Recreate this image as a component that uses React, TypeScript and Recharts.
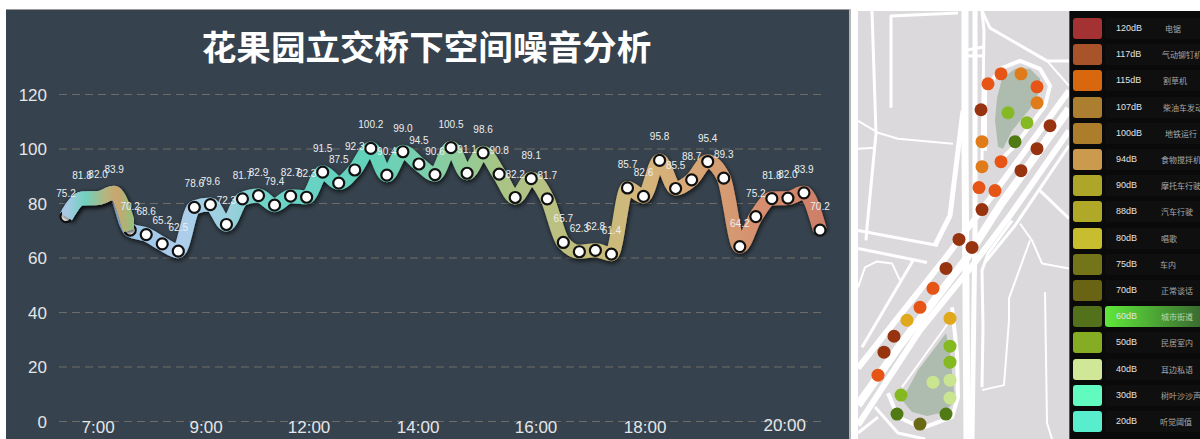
import {
  CartesianGrid,
  ComposedChart,
  Line,
  Scatter,
  ScatterChart,
  XAxis,
  YAxis,
} from "recharts";

const TITLE = "花果园立交桥下空间噪音分析";

const NOISE_VALUES = [
  75.2, 81.8, 82.0, 83.9, 70.2, 68.6, 65.2, 62.5, 78.6, 79.6, 72.3, 81.7,
  82.9, 79.4, 82.7, 82.3, 91.5, 87.5, 92.3, 100.2, 90.4, 99.0, 94.5, 90.6,
  100.5, 91.1, 98.6, 90.8, 82.2, 89.1, 81.7, 65.7, 62.3, 62.8, 61.4, 85.7,
  82.6, 95.8, 85.5, 88.7, 95.4, 89.3, 64.2, 75.2, 81.8, 82.0, 83.9, 70.2,
];
// the morning stretch is drawn again on top in its own colours
const HEAD_COUNT = 5;

const TIME_LABELS = ["7:00", "9:00", "12:00", "14:00", "16:00", "18:00", "20:00"];
const TIME_SLOTS = [2, 8.73, 15.15, 21.95, 29.3, 36.1, 44.8];
const DB_TICKS = [0, 20, 40, 60, 80, 100, 120];

const BASE_STOPS: [number, string][] = [
  [0, "#a9c8e6"],
  [0.085, "#9ac5e6"],
  [0.15, "#aecdec"],
  [0.18, "#a5cfe8"],
  [0.22, "#99d0dc"],
  [0.26, "#70d3c8"],
  [0.31, "#68d3c6"],
  [0.405, "#62d2ba"],
  [0.47, "#7acfae"],
  [0.535, "#95cb94"],
  [0.575, "#a8c485"],
  [0.63, "#b7c283"],
  [0.695, "#c4bc7b"],
  [0.76, "#d3b77b"],
  [0.815, "#d8ab78"],
  [0.87, "#d59c72"],
  [0.92, "#d58f6f"],
  [1, "#ce7f68"],
];
const HEAD_STOPS: [number, string][] = [
  [0, "#a9c8e6"],
  [0.3, "#6fd2bf"],
  [0.62, "#b5b57c"],
  [0.8, "#cba56e"],
  [1, "#9dbb7a"],
];

const LEGEND_LEVELS = [
  "120dB", "117dB", "115dB", "107dB", "100dB", "94dB", "90dB", "88dB",
  "80dB", "75dB", "70dB", "60dB", "50dB", "40dB", "30dB", "20dB",
];
const LEGEND_NAMES = [
  "电锯", "气动铆钉机", "割草机", "柴油车发动机", "地铁运行", "食物搅拌机", "摩托车行驶", "汽车行驶",
  "唱歌", "车内", "正常谈话", "城市街道", "民居室内", "耳边私语", "树叶沙沙声", "听觉阈值",
];
const LEGEND_COLORS = [
  "#a43233", "#a9532a", "#d8670d", "#ab7f2f", "#ac7d2b", "#cc9a4c", "#ada628", "#b0a927",
  "#c8bd2f", "#737518", "#696414", "#53701a", "#85ac22", "#cfe796", "#62fbbf", "#57edcd",
];
const LEGEND_NAME_LEFT = [95, 92, 93, 93, 95, 91, 91, 91, 91, 90, 91, 91, 91, 91, 91, 90];
const ACTIVE_LEVEL = "60dB";

// map geometry, in the map's own x/y units
type Pt = { x: number; y: number };
const pts = (flat: number[]): Pt[] => {
  const out: Pt[] = [];
  for (let i = 0; i < flat.length; i += 2) out.push({ x: flat[i], y: flat[i + 1] });
  return out;
};

const PARKS = [
  pts([997, 97, 1002, 78, 1015, 68, 1030, 68, 1040, 78, 1040, 90, 1030, 108, 1012, 130, 1003, 148, 998, 146, 995, 120]),
  pts([946, 333, 950, 353, 955, 400, 945, 412, 927, 416, 912, 412, 902, 400, 918, 370]),
];

const ROADS: [number, number[]][] = [
  [7, [965, 10, 965, 150, 967, 439]],
  [5, [975, 10, 975, 230, 972, 439]],
  [3, [982, 10, 984, 30, 982, 160]],
  [5, [963, 110, 950, 215, 935, 245]],
  [6, [1069, 90, 985, 205, 945, 258, 858, 368]],
  [8, [1069, 108, 1000, 205, 965, 260, 900, 345, 858, 405]],
  [6, [1069, 130, 1010, 215, 975, 262, 920, 330, 858, 425]],
  [3, [1069, 145, 1015, 225, 985, 262]],
  [3, [872, 10, 876, 133, 867, 227, 866, 240]],
  [3, [891, 107, 891, 15, 958, 12]],
  [2, [858, 120, 878, 132, 898, 138, 953, 143]],
  [2, [858, 148, 875, 147]],
  [3, [962, 50, 983, 46]],
  [3, [962, 55, 983, 55]],
  [3, [982, 10, 990, 27, 1047, 60, 1069, 60]],
  [2, [1047, 60, 1069, 85]],
  [4, [985, 150, 985, 90, 1000, 68, 1020, 60, 1040, 68, 1050, 85, 1045, 105, 1015, 145, 1000, 160]],
  [3, [1040, 190, 1069, 218]],
  [3, [858, 230, 938, 245]],
  [3, [858, 248, 927, 262]],
  [2, [858, 287, 865, 267, 877, 261, 892, 263, 900, 280]],
  [3, [913, 260, 862, 347]],
  [2, [1020, 223, 1032, 240, 1042, 263, 1069, 268]],
  [2, [1030, 240, 1009, 298, 1009, 320, 1004, 385, 982, 390]],
  [2, [1045, 292, 1047, 423, 1052, 439]],
  [3, [1012, 220, 988, 253, 982, 270, 983, 327, 982, 387]],
  [4, [888, 393, 898, 417, 922, 428, 952, 417, 958, 397, 957, 353, 952, 307]],
  [2, [948, 323, 902, 387]],
  [3, [858, 433, 878, 417]],
  [3, [875, 407, 898, 433, 925, 439]],
];

const BROWN_SPOTS = pts([981, 109, 1050, 125, 1037, 148, 1021, 170, 982, 209, 959, 239, 972, 247, 946, 268, 894, 336, 884, 352]);
const RED_SPOTS = pts([988, 83, 1001, 73, 1037, 86, 1001, 161, 979, 187, 995, 190, 933, 288, 920, 307, 878, 375]);
const ORANGE_SPOTS = pts([1021, 73, 1037, 102, 982, 141, 982, 166]);
const AMBER_SPOTS = pts([907, 320, 950, 318]);
const GREEN_SPOTS = pts([1008, 112, 1027, 122, 950, 346, 950, 362, 901, 395]);
const DARK_GREEN_SPOTS = pts([1015, 141, 897, 414, 946, 414]);
const OLIVE_SPOTS = pts([920, 424]);
const PALE_SPOTS = pts([933, 382, 950, 380, 950, 398]);

const SPOT_GROUPS: [string, Pt[]][] = [
  ["#97330f", BROWN_SPOTS],
  ["#e65516", RED_SPOTS],
  ["#e07b1a", ORANGE_SPOTS],
  ["#e0a81a", AMBER_SPOTS],
  ["#84b922", GREEN_SPOTS],
  ["#4f7a14", DARK_GREEN_SPOTS],
  ["#6b6a14", OLIVE_SPOTS],
  ["#c9e58f", PALE_SPOTS],
];

const tableData = NOISE_VALUES.map((value, idx) => ({
  idx,
  value,
  head: idx < HEAD_COUNT ? value : null,
}));

const UI_FONT = '"Liberation Sans", Arial, sans-serif';
const CJK_FONT = '"Noto Sans CJK SC", sans-serif';

function TimeTick({ x, y, payload }: any) {
  const i = TIME_SLOTS.indexOf(payload.value);
  return (
    <text
      x={x}
      y={y + (i === TIME_LABELS.length - 1 ? 9.5 : 11.5)}
      textAnchor="middle"
      fill="#e4e6e8"
      fontSize={17}
      fontFamily={UI_FONT}
    >
      {TIME_LABELS[i]}
    </text>
  );
}

function NoiseChart() {
  return (
    <div
      style={{
        position: "absolute",
        left: 6,
        top: 9,
        width: 843,
        height: 430,
        background: "#36424d",
        borderTop: "1px solid #9a9a9a",
        boxSizing: "border-box",
      }}
    >
      <div
        style={{
          position: "absolute",
          left: -1,
          width: 843,
          top: 13,
          textAlign: "center",
          color: "#fff",
          fontFamily: CJK_FONT,
          fontWeight: 700,
          fontSize: 34.6,
          lineHeight: "44px",
        }}
      >
        {TITLE}
      </div>
      <ComposedChart
        width={843}
        height={429}
        data={tableData}
        margin={{ top: 84.5, right: 26, bottom: 0, left: 0 }}
      >
        <defs>
          <linearGradient id="baseBand" x1="0" y1="0" x2="1" y2="0">
            {BASE_STOPS.map(([o, c]) => (
              <stop key={o} offset={o} stopColor={c} />
            ))}
          </linearGradient>
          <linearGradient id="headBand" x1="0" y1="0" x2="1" y2="0">
            {HEAD_STOPS.map(([o, c]) => (
              <stop key={o} offset={o} stopColor={c} />
            ))}
          </linearGradient>
          <filter id="bandShadow" x="-5%" y="-20%" width="110%" height="140%">
            <feDropShadow dx="1" dy="2" stdDeviation="2.5" floodColor="#000" floodOpacity="0.75" />
          </filter>
        </defs>
        <CartesianGrid
          vertical={false}
          stroke="#6e6c68"
          strokeWidth={1}
          strokeDasharray="8 5"
        />
        <XAxis
          type="number"
          dataKey="idx"
          domain={[0, 47]}
          ticks={TIME_SLOTS}
          interval={0}
          padding={{ left: 7, right: 3 }}
          axisLine={false}
          tickLine={false}
          tickSize={0}
          tickMargin={0}
          height={17.5}
          tick={<TimeTick />}
        />
        <YAxis
          type="number"
          domain={[0, 120]}
          ticks={DB_TICKS}
          width={53}
          axisLine={false}
          tickLine={false}
          tickSize={0}
          tickMargin={12}
          tick={{ fill: "#e4e6e8", fontSize: 17, fontFamily: UI_FONT }}
        />
        <Line
          dataKey="value"
          type="monotone"
          stroke="url(#baseBand)"
          strokeWidth={14}
          filter="url(#bandShadow)"
          dot={{ r: 5.5, fill: "#fff", stroke: "#111", strokeWidth: 2.2, filter: "none" }}
          isAnimationActive={false}
        />
        <Line
          dataKey="head"
          type="monotone"
          stroke="url(#headBand)"
          strokeWidth={14}
          filter="url(#bandShadow)"
          dot={false}
          zIndex={1200}
          isAnimationActive={false}
        />
        {/* value labels sit above every band, so they get their own pass */}
        <Line
          dataKey="value"
          type="monotone"
          stroke="none"
          dot={false}
          zIndex={1400}
          isAnimationActive={false}
          label={{
            position: "top",
            offset: 20,
            fill: "#eceef0",
            fontSize: 10,
            fontFamily: UI_FONT,
            formatter: (v: number) => v.toFixed(1),
          }}
        />
      </ComposedChart>
    </div>
  );
}

function SiteMap() {
  return (
    <div
      style={{
        position: "absolute",
        left: 858,
        top: 11,
        width: 211,
        height: 428,
        background: "#dbd9dc",
        overflow: "hidden",
      }}
    >
      <ScatterChart width={211} height={428} margin={{ top: 0, right: 0, bottom: 0, left: 0 }}>
        <XAxis type="number" dataKey="x" domain={[858, 1069]} hide />
        <YAxis type="number" dataKey="y" domain={[11, 439]} reversed hide />
        {ROADS.map(([w, flat], i) => (
          <Scatter
            key={`road-${i}`}
            data={pts(flat)}
            line={{ stroke: "#fff", strokeWidth: w, strokeLinejoin: "round" }}
            shape={() => <g />}
            isAnimationActive={false}
          />
        ))}
        {PARKS.map((park, i) => (
          <Scatter
            key={`park-${i}`}
            data={park}
            line={{ stroke: "none", fill: "#aebcaf" }}
            shape={() => <g />}
            isAnimationActive={false}
          />
        ))}
        {SPOT_GROUPS.map(([color, spots]) => (
          <Scatter
            key={color}
            data={spots}
            shape={(p: any) => <circle cx={p.cx} cy={p.cy} r={6.5} fill={color} />}
            isAnimationActive={false}
          />
        ))}
      </ScatterChart>
    </div>
  );
}

function NoiseLegend() {
  return (
    <div
      style={{
        position: "absolute",
        left: 1069,
        top: 11,
        width: 131,
        height: 428,
        background: "#0a0a0a",
        overflow: "hidden",
        borderLeft: "1px solid #555",
        boxSizing: "border-box",
      }}
    >
      {LEGEND_LEVELS.map((level, i) => {
        const top = 7 + i * 26.2;
        const active = level === ACTIVE_LEVEL;
        return (
          <div key={level}>
            <div
              style={{
                position: "absolute",
                left: 3,
                top,
                width: 29,
                height: 21,
                borderRadius: 3,
                background: LEGEND_COLORS[i],
              }}
            />
            <div
              style={{
                position: "absolute",
                left: 35,
                top: top,
                width: 96,
                height: 21,
                borderRadius: "3px 0 0 3px",
                background: active
                  ? "linear-gradient(90deg, #5fe83a, #3a6a30)"
                  : "#0f0f0f",
              }}
            />
            <div
              style={{
                position: "absolute",
                left: 46,
                top,
                height: 21,
                lineHeight: "21px",
                fontSize: 9,
                fontFamily: UI_FONT,
                color: "#e2e2e2",
              }}
            >
              {level}
            </div>
            <div
              style={{
                position: "absolute",
                left: LEGEND_NAME_LEFT[i],
                top,
                height: 21,
                lineHeight: "21px",
                fontSize: 8,
                whiteSpace: "nowrap",
                fontFamily: CJK_FONT,
                color: active ? "#b9d8ae" : "#a8a8a8",
              }}
            >
              {LEGEND_NAMES[i]}
            </div>
          </div>
        );
      })}
    </div>
  );
}

export default function App() {
  return (
    <div
      style={{
        position: "absolute",
        left: 0,
        top: 0,
        width: 1200,
        height: 439,
        background: "#fff",
        overflow: "hidden",
      }}
    >
      <NoiseChart />
      <div
        style={{
          position: "absolute",
          left: 849,
          top: 9,
          width: 2,
          height: 430,
          background: "#b4b4b4",
        }}
      />
      <SiteMap />
      <NoiseLegend />
    </div>
  );
}
